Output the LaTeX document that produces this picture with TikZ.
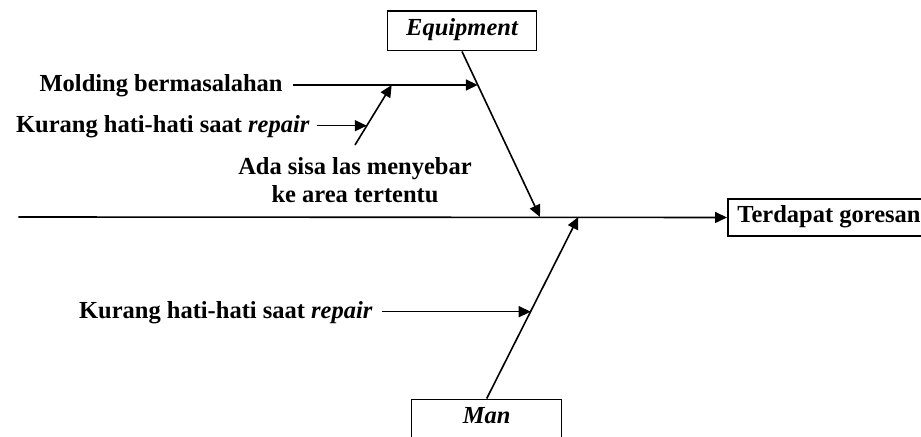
\documentclass[tikz,border=0pt]{standalone}
\usepackage{fontspec}
\setmainfont{Liberation Serif}
\usetikzlibrary{arrows.meta}
\tikzset{
  bone/.style={line width=0.8pt, -{Triangle[length=6pt,width=5.5pt]}},
  catbox/.style={draw, line width=0.75pt, inner sep=0pt, font=\fontsize{12.25}{14.15}\selectfont\bfseries\itshape, text height=0.68em, text depth=0.22em},
  goalbox/.style={draw, line width=0.75pt, inner sep=0pt, font=\fontsize{12.25}{14.15}\selectfont\bfseries, text height=0.68em, text depth=0.22em},
  causetext/.style={inner sep=0pt, font=\fontsize{12.25}{14.15}\selectfont\bfseries},
}
\begin{document}
\begin{tikzpicture}[x=0.5pt,y=-0.5pt]
\clip (0,0) rectangle (921,437);
\fill[white] (0,0) rectangle (921,437);
% boxes
\node[catbox, minimum width=74.7pt, minimum height=19.85pt] (eq) at (462,30.9) {Equipment};
\node[catbox, minimum width=75pt, minimum height=19.85pt] (man) at (486.7,419.15) {Man};
\node[goalbox, anchor=west, minimum height=18.5pt, inner xsep=4.85pt] (goal) at (727,217.5) {Terdapat goresan};
% coordinates
\coordinate (sL) at (18.3,217);
\coordinate (eqT) at (540,217);
\coordinate (manT) at (578.3,217);
\coordinate (mJ) at (477.8,85);
\coordinate (moldS) at (293.3,85);
\coordinate (subB) at (355,145);
\coordinate (subT) at (391.7,85);
\coordinate (kS) at (316.7,125.7);
\coordinate (kJ) at (366.8,125.7);
\coordinate (k2S) at (381.7,311.7);
\coordinate (k2J) at (530.7,311.7);
% texts
\node[causetext, anchor=base east] (mold) at (283,91.7) {Molding bermasalahan};
\node[causetext, anchor=base east] (kur1) at (310,132.5) {Kurang hati-hati saat \textit{repair}};
\node[causetext, anchor=base east] (kur2) at (373,318.5) {Kurang hati-hati saat \textit{repair}};
\node[causetext, align=center] (ada) at (355,180) {Ada sisa las menyebar\\ke area tertentu};
% connectors
\draw[bone] (sL) -- (goal.west);
\draw[bone] (eq.south) -- (eqT);
\draw[bone] (man.north) -- (manT);
\draw[bone] (moldS) -- (mJ);
\draw[bone] (subB) -- (subT);
\draw[bone] (kS) -- (kJ);
\draw[bone] (k2S) -- (k2J);
\end{tikzpicture}
\end{document}
